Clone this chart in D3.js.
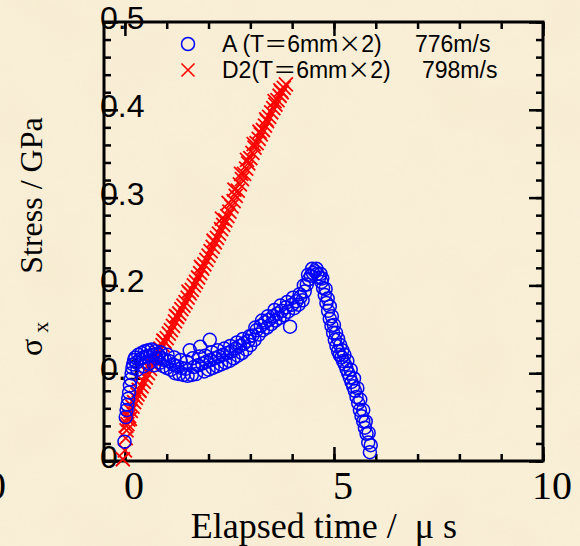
<!DOCTYPE html>
<html>
<head>
<meta charset="utf-8">
<script src="https://cdn.jsdelivr.net/npm/d3@7/dist/d3.min.js"></script>
<style>
  html, body { margin: 0; padding: 0; background: #f8eed6; }
  svg { display: block; }
</style>
</head>
<body>
<svg id="chart" width="580" height="546"></svg>
<script>
// Specimen A: elapsed time (µs) and stress σx (GPa), one pair per sample
const seriesA = [
  [-0.01,0.022],[0.02,0.050],[0.04,0.058],[0.06,0.064],[0.08,0.071],[0.10,0.078],
  [0.12,0.086],[0.14,0.093],[0.16,0.100],[0.18,0.106],[0.20,0.110],[0.22,0.115],
  [0.25,0.118],[0.28,0.112],[0.32,0.121],[0.36,0.116],[0.40,0.123],[0.44,0.118],
  [0.48,0.125],[0.52,0.119],[0.56,0.126],[0.60,0.120],[0.64,0.127],[0.68,0.121],
  [0.72,0.125],[0.76,0.117],[0.80,0.121],[0.84,0.112],[0.88,0.117],[0.92,0.108],
  [0.96,0.115],[1.00,0.106],[1.05,0.114],[1.10,0.104],[1.15,0.110],[1.20,0.100],
  [1.25,0.108],[1.30,0.099],[1.35,0.106],[1.40,0.098],[1.45,0.105],[1.50,0.097],
  [1.55,0.126],[1.60,0.098],[1.65,0.107],[1.70,0.099],[1.75,0.109],[1.80,0.130],
  [1.85,0.111],[1.90,0.102],[1.95,0.113],[2.00,0.104],[2.03,0.138],[2.05,0.115],
  [2.10,0.106],[2.15,0.117],[2.20,0.108],[2.25,0.119],[2.30,0.110],[2.35,0.121],
  [2.40,0.112],[2.45,0.123],[2.50,0.114],[2.55,0.125],[2.60,0.117],[2.65,0.128],
  [2.70,0.120],[2.75,0.131],[2.80,0.123],[2.85,0.134],[2.90,0.127],[2.95,0.137],
  [3.00,0.132],[3.05,0.143],[3.10,0.138],[3.15,0.149],[3.20,0.144],[3.25,0.154],
  [3.30,0.149],[3.35,0.158],[3.40,0.152],[3.45,0.161],[3.50,0.156],[3.55,0.165],
  [3.60,0.160],[3.65,0.168],[3.70,0.163],[3.75,0.171],[3.80,0.166],[3.85,0.175],
  [3.90,0.170],[3.95,0.153],[4.00,0.178],[4.05,0.174],[4.10,0.182],[4.15,0.178],
  [4.20,0.187],[4.25,0.183],[4.30,0.193],[4.35,0.201],[4.40,0.207],[4.45,0.211],
  [4.50,0.214],[4.55,0.216],[4.60,0.213],[4.65,0.209],[4.70,0.204],[4.74,0.197],
  [4.78,0.189],[4.82,0.180],[4.86,0.171],[4.90,0.162],[4.94,0.154],[4.98,0.146],
  [5.02,0.138],[5.06,0.131],[5.10,0.125],[5.14,0.121],[5.18,0.118],[5.22,0.114],
  [5.26,0.110],[5.30,0.105],[5.34,0.100],[5.38,0.095],[5.42,0.090],[5.46,0.085],
  [5.50,0.080],[5.54,0.073],[5.58,0.066],[5.62,0.058],[5.66,0.051],[5.70,0.045],
  [5.74,0.038],[5.78,0.031],[5.82,0.021],[5.86,0.010],
  [0.30,0.104],[0.45,0.108],[0.58,0.111],[0.70,0.109],[0.85,0.124],[1.02,0.121],
  [1.18,0.118],[1.33,0.115],[1.48,0.113],[1.62,0.117],[1.78,0.119],[1.92,0.120],
  [2.08,0.124],[2.22,0.126],[2.38,0.128],[2.52,0.131],[2.68,0.135],[2.82,0.139],
  [2.98,0.142],[3.12,0.152],[3.28,0.160],[3.42,0.165],[3.58,0.172],[3.72,0.177],
  [3.88,0.181],[4.02,0.186],[4.18,0.190],[4.28,0.200],[4.38,0.212],[4.48,0.219],
  [4.58,0.219],[4.68,0.213],[4.72,0.208],[4.80,0.196],[4.85,0.185],[4.90,0.176],
  [4.95,0.165],[5.00,0.155],[5.05,0.146],[5.10,0.139],[5.15,0.132],[5.20,0.126],
  [5.25,0.121],[5.32,0.114],[5.40,0.104],[5.48,0.094],[5.56,0.083],[5.63,0.070],
  [5.70,0.058],[5.76,0.045],[5.83,0.032],[5.88,0.018]
];

// Specimen D2: elapsed time (µs) and stress σx (GPa)
const seriesD2 = [
  [-0.05,0.002],[0.00,0.012],[0.02,0.026],[0.04,0.035],[0.06,0.042],[0.08,0.047],
  [0.10,0.051],[0.14,0.057],[0.18,0.062],[0.22,0.067],[0.26,0.072],[0.30,0.076],
  [0.35,0.080],[0.40,0.085],[0.45,0.090],[0.50,0.095],[0.55,0.100],[0.60,0.105],
  [0.65,0.110],[0.70,0.115],[0.75,0.119],[0.80,0.124],[0.85,0.128],[0.90,0.132],
  [0.95,0.136],[1.00,0.140],[1.05,0.145],[1.10,0.149],[1.15,0.154],[1.20,0.159],
  [1.25,0.164],[1.30,0.168],[1.35,0.173],[1.40,0.177],[1.45,0.181],[1.50,0.186],
  [1.55,0.191],[1.60,0.195],[1.65,0.200],[1.70,0.204],[1.75,0.209],[1.80,0.214],
  [1.85,0.219],[1.90,0.224],[1.95,0.229],[2.00,0.234],[2.05,0.239],[2.10,0.244],
  [2.15,0.249],[2.20,0.254],[2.25,0.259],[2.30,0.264],[2.35,0.269],[2.40,0.274],
  [2.45,0.279],[2.50,0.284],[2.55,0.290],[2.60,0.296],[2.65,0.302],[2.70,0.308],
  [2.75,0.315],[2.80,0.321],[2.85,0.327],[2.90,0.333],[2.95,0.339],[3.00,0.345],
  [3.05,0.351],[3.10,0.357],[3.15,0.362],[3.20,0.367],[3.25,0.372],[3.30,0.377],
  [3.35,0.382],[3.40,0.387],[3.45,0.392],[3.50,0.397],[3.55,0.402],[3.60,0.406],
  [3.65,0.411],[3.70,0.416],[3.75,0.420],[3.80,0.425],[3.85,0.429],
  [0.03,0.040],[0.12,0.048],[0.33,0.081],[0.62,0.112],[0.92,0.137],[1.22,0.165],
  [1.52,0.193],[1.82,0.221],[2.12,0.251],[2.32,0.276],[2.48,0.294],[2.62,0.309],
  [2.78,0.327],[2.92,0.343],[3.08,0.361],[3.22,0.375],[3.38,0.389],[3.58,0.410],
  [3.72,0.422]
];

const xDomain = [-0.5, 10];
const yDomain = [0, 0.5];
const xMinorTicks = [0, 1, 2, 3, 4, 5, 6, 7, 8, 9, 10];
const xMajorTicks = [0, 5, 10];
const xTickLabels = ["0", "5", "10"];
const yMinorTicks = d3.range(0, 26).map(i => +(i * 0.02).toFixed(2));
const yMajorTicks = [0, 0.1, 0.2, 0.3, 0.4, 0.5];
const yTickLabels = ["0", "0.1", "0.2", "0.3", "0.4", "0.5"];
const legendEntries = [
  { name: "A ", thick: "6mm", speed: "776m/s", key: "A" },
  { name: "D2", thick: "6mm", speed: "798m/s", key: "D2" }
];
const xTitle = "Elapsed time /  μ s";
const yTitle = "Stress / GPa";

const svg = d3.select("#chart");
const W = 580, H = 546;
const plot = { left: 104, right: 543, top: 22, bottom: 461 };

const x = d3.scaleLinear().domain(xDomain).range([plot.left, plot.right]);
const y = d3.scaleLinear().domain(yDomain).range([plot.bottom, plot.top]);

const SANS = "'Liberation Sans', Arial, sans-serif";
const SERIF = "'Liberation Serif', 'Times New Roman', serif";
const CJK = "'Noto Sans CJK JP', sans-serif";

// parchment-like backdrop
const defs = svg.append("defs");
const f = defs.append("filter").attr("id", "paper")
  .attr("x", 0).attr("y", 0).attr("width", "100%").attr("height", "100%");
f.append("feTurbulence").attr("type", "fractalNoise")
  .attr("baseFrequency", "0.012").attr("numOctaves", 3).attr("seed", 7);
f.append("feColorMatrix").attr("type", "matrix")
  .attr("values", "0 0 0 0 0.90  0 0 0 0 0.81  0 0 0 0 0.60  0 0 0 1.1 -0.40");
svg.append("rect").attr("width", W).attr("height", H).attr("fill", "#f9efd7");
svg.append("rect").attr("width", W).attr("height", H)
  .attr("filter", "url(#paper)").attr("opacity", 0.6);

// inward tick marks on all four sides
function ticks(axisGen, values, size, transform) {
  const g = svg.append("g").attr("transform", transform)
    .call(axisGen.tickValues(values).tickSize(size).tickFormat(""));
  g.select(".domain").remove();
  g.selectAll(".tick line").attr("stroke", "#000").attr("stroke-width", 2.5);
  return g;
}
ticks(d3.axisBottom(x), xMinorTicks, -7, `translate(0,${plot.bottom})`);
ticks(d3.axisBottom(x), xMajorTicks, -14, `translate(0,${plot.bottom})`);
ticks(d3.axisTop(x), xMinorTicks, -7, `translate(0,${plot.top})`);
ticks(d3.axisTop(x), xMajorTicks, -14, `translate(0,${plot.top})`);
ticks(d3.axisLeft(y), yMinorTicks, -7, `translate(${plot.left},0)`);
ticks(d3.axisLeft(y), yMajorTicks, -14, `translate(${plot.left},0)`);
ticks(d3.axisRight(y), yMinorTicks, -7, `translate(${plot.right},0)`);
ticks(d3.axisRight(y), yMajorTicks, -14, `translate(${plot.right},0)`);

// frame
svg.append("rect")
  .attr("x", plot.left).attr("y", plot.top)
  .attr("width", plot.right - plot.left).attr("height", plot.bottom - plot.top)
  .attr("fill", "none").attr("stroke", "#000").attr("stroke-width", 3);

// y tick labels sit over the left axis
svg.append("g").selectAll("text").data(yMajorTicks).join("text")
  .attr("x", 100)
  .attr("y", d => y(d) + 7)
  .attr("font-family", SANS)
  .attr("font-size", 32)
  .attr("fill", "#000")
  .text((d, i) => yTickLabels[i]);

// x tick labels
svg.append("g").selectAll("text").data(xMajorTicks).join("text")
  .attr("x", d => x(d) + 9)
  .attr("y", 499)
  .attr("text-anchor", "middle")
  .attr("font-family", SERIF)
  .attr("font-size", 40)
  .attr("fill", "#000")
  .text((d, i) => xTickLabels[i]);
svg.append("text")
  .attr("x", 6).attr("y", 499).attr("text-anchor", "end")
  .attr("font-family", SERIF)
  .attr("font-size", 40).text("0");

// markers
const crossPath = s => `M${-s},${-s}L${s},${s}M${-s},${s}L${s},${-s}`;

svg.append("g").selectAll("path").data(seriesD2).join("path")
  .attr("transform", d => `translate(${x(d[0])},${y(d[1])})`)
  .attr("d", crossPath(7))
  .attr("fill", "none").attr("stroke", "#ff0000").attr("stroke-width", 1.8);

svg.append("g").selectAll("circle").data(seriesA).join("circle")
  .attr("cx", d => x(d[0])).attr("cy", d => y(d[1])).attr("r", 6.5)
  .attr("fill", "none").attr("stroke", "#0000ff").attr("stroke-width", 1.5);

// legend
const leg = svg.append("g");
legendEntries.forEach((e, i) => {
  const cy = 44 + i * 26;
  if (e.key === "A") {
    leg.append("circle").attr("cx", 188).attr("cy", cy).attr("r", 6.5)
      .attr("fill", "none").attr("stroke", "#0000ff").attr("stroke-width", 1.5);
  } else {
    leg.append("path").attr("transform", `translate(188,${cy})`)
      .attr("d", crossPath(6.5)).attr("fill", "none")
      .attr("stroke", "#ff0000").attr("stroke-width", 1.6);
  }
  const t = leg.append("text").attr("x", 222).attr("y", cy + 8)
    .attr("font-family", SANS).attr("font-size", 23)
    .attr("xml:space", "preserve");
  t.append("tspan").text(e.name + "(T");
  t.append("tspan").attr("font-family", CJK).text("＝");
  t.append("tspan").text(e.thick);
  t.append("tspan").attr("font-family", CJK).text("×");
  t.append("tspan").text("2)");
  leg.append("text").attr("x", i === 0 ? 415 : 422).attr("y", cy + 8)
    .attr("font-family", SANS).attr("font-size", 23).text(e.speed);
});

// axis titles
svg.append("text")
  .attr("x", (x(0) + x(10)) / 2 - 10).attr("y", 538)
  .attr("text-anchor", "middle")
  .attr("font-family", SERIF)
  .attr("font-size", 36)
  .attr("xml:space", "preserve")
  .text(xTitle);

// σx symbol and unit text, reading bottom to top
const yt = svg.append("text")
  .attr("transform", "translate(42,356) rotate(-90)")
  .attr("font-family", SERIF)
  .attr("font-size", 32)
  .attr("xml:space", "preserve");
yt.append("tspan").text("σ");
yt.append("tspan").attr("font-size", 22).attr("dy", 6).attr("dx", 6).text("x");
yt.append("tspan").attr("dy", -6).attr("dx", 0).text("      " + yTitle);
</script>
</body>
</html>
